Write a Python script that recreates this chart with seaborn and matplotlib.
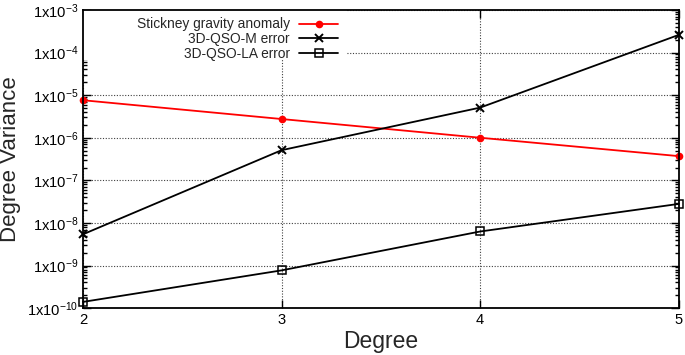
import numpy as np
import pandas as pd
import matplotlib
matplotlib.use('Agg')
import matplotlib.pyplot as plt
import seaborn as sns
from matplotlib.patches import Rectangle
from matplotlib.ticker import FixedLocator, LogLocator, FuncFormatter, NullFormatter

# values
degrees = [2, 3, 4, 5]
stickney = [7.6e-6, 2.75e-6, 1.0e-6, 3.7e-7]
qso_m = [5.4e-9, 5.1e-7, 5.1e-6, 2.6e-4]
qso_la = [1.4e-10, 7.7e-10, 6.3e-9, 2.8e-8]
labels = ['Stickney gravity anomaly', '3D-QSO-M error', '3D-QSO-LA error']

sns.set_style('ticks')
plt.rcParams['font.family'] = ['Liberation Sans', 'DejaVu Sans']
plt.rcParams['mathtext.fontset'] = 'custom'
plt.rcParams['mathtext.rm'] = 'Liberation Sans'
plt.rcParams['mathtext.it'] = 'Liberation Sans'

fig = plt.figure(figsize=(6.85, 3.55), dpi=100)
ax = fig.add_axes([0.121, 0.132, 0.870, 0.840])

df = pd.DataFrame({'Degree': degrees, 's': stickney, 'm': qso_m, 'la': qso_la})

sns.lineplot(data=df, x='Degree', y='s', ax=ax, color='#ff0000', lw=1.3,
             marker='o', markersize=5.5, markeredgewidth=0, label=labels[0], clip_on=False)
sns.lineplot(data=df, x='Degree', y='m', ax=ax, color='black', lw=1.3,
             marker='x', markersize=6, markeredgewidth=1.4, markeredgecolor='black',
             label=labels[1], clip_on=False)
sns.lineplot(data=df, x='Degree', y='la', ax=ax, color='black', lw=1.3,
             marker='s', markersize=6, markerfacecolor='none', markeredgecolor='black',
             markeredgewidth=1.1, label=labels[2], clip_on=False)

ax.set_yscale('log')
ax.set_xlim(2, 5)
ax.set_ylim(1e-10, 1e-3)
ax.xaxis.set_major_locator(FixedLocator(degrees))
ax.yaxis.set_major_locator(LogLocator(base=10, numticks=20))
ax.yaxis.set_minor_locator(LogLocator(base=10, subs=np.arange(2, 10), numticks=20))
ax.yaxis.set_minor_formatter(NullFormatter())
ax.yaxis.set_major_formatter(FuncFormatter(lambda v, p: r'1x10$^{%d}$' % round(np.log10(v))))

ax.tick_params(which='both', direction='in', top=True, right=True, width=1.0, colors='black')
ax.tick_params(which='major', length=6, labelsize=10.6)
ax.tick_params(which='minor', length=3)
for s in ax.spines.values():
    s.set_linewidth(1.3)
    s.set_color('black')

ax.grid(True, which='major', color='0.25', linestyle=(0, (1, 1.5)), linewidth=0.8)
ax.set_axisbelow(True)

# white key area hides the grid behind the legend, as in the original
ax.add_patch(Rectangle((0, 0.832), 0.443, 0.168, transform=ax.transAxes,
                       facecolor='white', edgecolor='none', zorder=1.5))

ax.set_xlabel('Degree', fontsize=16.5, labelpad=2)
ax.set_ylabel('Degree Variance', fontsize=16)
ax.yaxis.set_label_coords(-0.104, 0.5)

leg = ax.legend(loc='upper right', bbox_to_anchor=(0.428, 0.975), markerfirst=False,
                fontsize=9.9, handlelength=2.8, handletextpad=0.7, labelspacing=0.05,
                borderpad=0, borderaxespad=0, frameon=False)

fig.savefig('out.png', dpi=100)
